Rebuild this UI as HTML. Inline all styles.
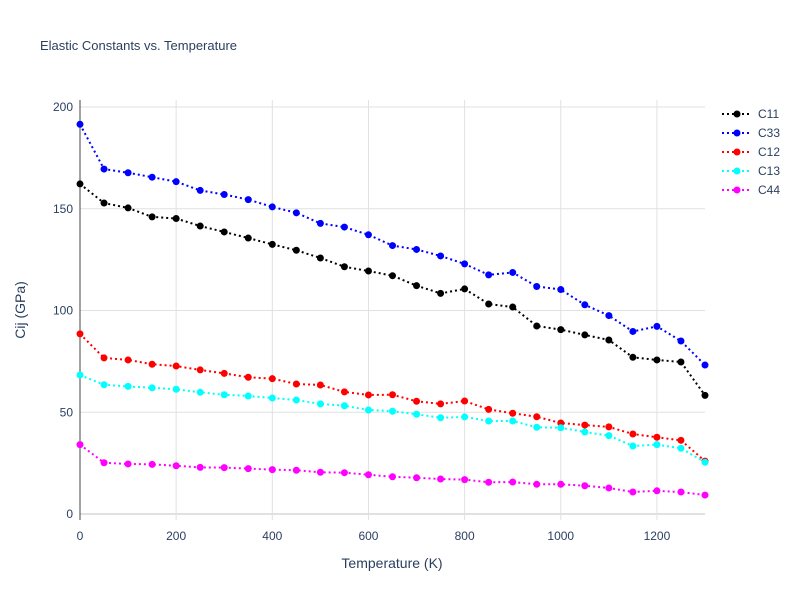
<!DOCTYPE html>
<html><head><meta charset="utf-8"><style>
body{margin:0;background:#fff;}
svg text{font-family:"Liberation Sans",sans-serif;}
</style></head><body>
<svg id="chart" width="800" height="600" xmlns="http://www.w3.org/2000/svg">
<rect width="800" height="600" fill="#fff"/>
<text x="40" y="50" font-size="13" fill="#2a3f5f">Elastic Constants vs. Temperature</text>
<g id="grid"></g>
<g id="series"></g>
<g id="legend"></g>
<text x="392" y="568" font-size="14" fill="#2a3f5f" text-anchor="middle">Temperature (K)</text>
<text x="25" y="310" font-size="14" fill="#2a3f5f" text-anchor="middle" transform="rotate(-90 25 310)">Cij (GPa)</text>
</svg>
<script>
const temps = [0,50,100,150,200,250,300,350,400,450,500,550,600,650,700,750,800,850,900,950,1000,1050,1100,1150,1200,1250,1300];
const c11 = [162.2,152.8,150.4,146,145.2,141.5,138.6,135.6,132.5,129.6,125.8,121.5,119.4,117.1,112.2,108.4,110.6,103.2,101.7,92.4,90.6,88,85.5,77,75.7,74.7,58.3];
const c33 = [191.5,169.5,167.7,165.5,163.3,159,157,154.5,150.9,148,142.8,141,137.2,131.9,130,126.8,122.9,117.5,118.7,111.8,110.3,102.8,97.5,89.7,92.2,85,73.2];
const c12 = [88.5,76.7,75.7,73.6,72.7,70.8,69.1,67.2,66.5,63.9,63.4,60,58.5,58.6,55.4,54.1,55.5,51.4,49.5,47.8,44.7,43.7,42.8,39.3,37.7,36.2,26];
const c13 = [68.3,63.5,62.7,62,61.3,59.8,58.6,58,57,56,54.1,53.2,51.1,50.5,49,47.3,47.7,45.7,45.7,42.6,42.4,40.3,38.5,33.4,34.1,32.3,25.4];
const c44 = [34.1,25.2,24.6,24.4,23.7,22.9,22.8,22.3,21.8,21.5,20.5,20.3,19.3,18.3,17.8,17.2,16.9,15.6,15.7,14.6,14.6,13.9,12.8,10.8,11.4,10.8,9.3];
const seriesNames = ["C11","C33","C12","C13","C44"];
const seriesColors = ["#000000","#0000ff","#ff0000","#00ffff","#ff00ff"];
const xTicks = [0,200,400,600,800,1000,1200];
const yTicks = [0,50,100,150,200];

const NS="http://www.w3.org/2000/svg";
const L=80,R=705,T=100,B=520;
const xs=v=>L+v*(R-L)/1300;
const ys=v=>514-v*2.035;
function mk(tag,attrs,parent){const e=document.createElementNS(NS,tag);for(const k in attrs)e.setAttribute(k,attrs[k]);parent.appendChild(e);return e;}
const grid=document.getElementById('grid');
xTicks.forEach(t=>{
  const l=mk('line',{x1:xs(t),x2:xs(t),y1:T,y2:B,stroke:t===0?'#444':'#e1e1e1','stroke-width':t===0?1:1},grid);
  
  
  const tx=mk('text',{x:xs(t),y:540,'font-size':12,fill:'#2a3f5f','text-anchor':'middle'},grid);
  tx.textContent=t;
  
  
});
yTicks.forEach(t=>{
  const l=mk('line',{x1:L,x2:R,y1:ys(t),y2:ys(t),stroke:t===0?'#e1e1e1':'#e1e1e1','stroke-width':t===0?2:1},grid);
  
  
  const tx=mk('text',{x:73,y:ys(t)+4,'font-size':12,fill:'#2a3f5f','text-anchor':'end'},grid);
  tx.textContent=t;
  
  
});
mk('line',{x1:L,x2:L,y1:T,y2:B,stroke:'#444','stroke-width':1},grid);
const all=[c11,c33,c12,c13,c44];
const sg=document.getElementById('series');
const lg=document.getElementById('legend');
all.forEach((vals,i)=>{
  const g=mk('g',{},sg);
  
  
  const pts=vals.map((v,j)=>xs(temps[j])+','+ys(v)).join(' ');
  mk('polyline',{points:pts,fill:'none',stroke:seriesColors[i],'stroke-width':2,'stroke-dasharray':'2,3'},g);
  vals.forEach((v,j)=>{
    const c=mk('circle',{cx:xs(temps[j]),cy:ys(v),r:3.5,fill:seriesColors[i]},g);
    
    
  });
  const y=114+i*19;
  const e=mk('g',{},lg);
  
  
  mk('line',{x1:722,x2:752,y1:y,y2:y,stroke:seriesColors[i],'stroke-width':2,'stroke-dasharray':'2,3'},e);
  mk('circle',{cx:737,cy:y,r:3.5,fill:seriesColors[i]},e);
  const t=mk('text',{x:758,y:y+4,'font-size':12,fill:'#2a3f5f'},e);
  t.textContent=seriesNames[i];
});
</script>
</body></html>
